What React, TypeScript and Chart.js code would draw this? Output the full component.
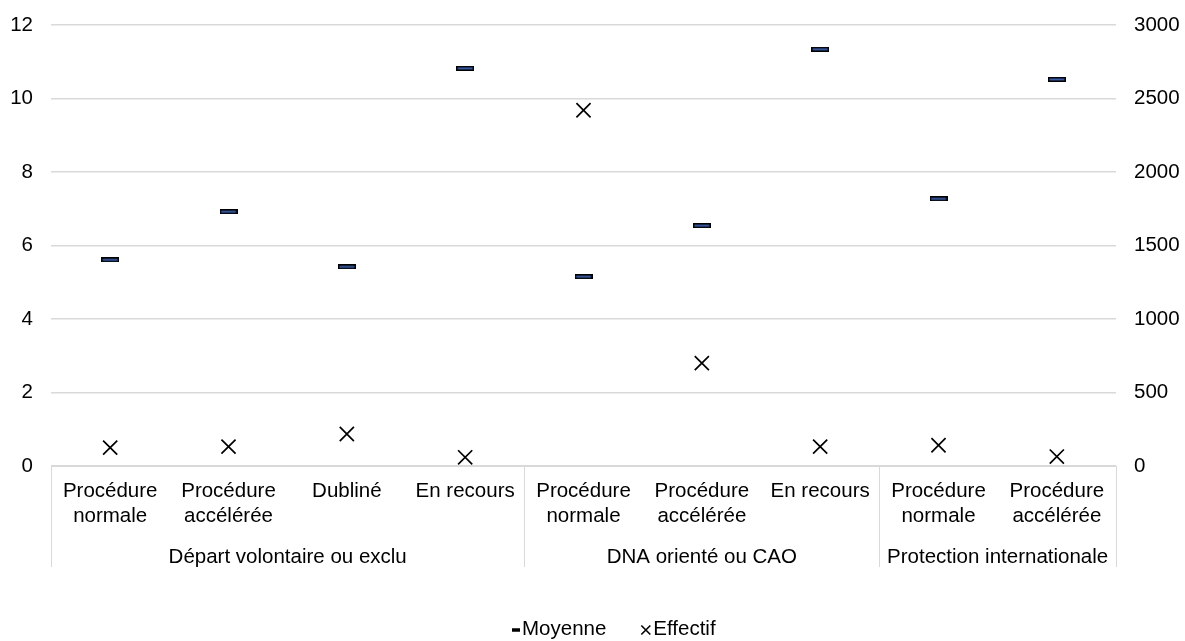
import { useEffect, useRef } from "react";
import { Chart, registerables } from "chart.js";

Chart.register(...registerables);

// Categories (two-line labels) and the groups they belong to
const categories: (string | string[])[] = [
  ["Procédure", "normale"],
  ["Procédure", "accélérée"],
  "Dubliné",
  "En recours",
  ["Procédure", "normale"],
  ["Procédure", "accélérée"],
  "En recours",
  ["Procédure", "normale"],
  ["Procédure", "accélérée"],
];
const groupLabels = ["Départ volontaire ou exclu", "DNA orienté ou CAO", "Protection internationale"];
const groupSizes = [4, 3, 2];

// Series values
const moyenne = [5.61, 6.92, 5.42, 10.82, 5.15, 6.54, 11.34, 7.27, 10.52];
const effectif = [125, 132, 218, 59, 2420, 700, 132, 141, 64];

// Axis ranges
const leftMax = 12;
const leftStep = 2;
const rightMax = 3000;
const rightStep = 500;

const FONT = "'Liberation Sans', Arial, sans-serif";
const FONT_SIZE = 20.5;
const GRID = "#d9d9d9";
const TEXT = "#000000";
const HIDDEN = "rgba(0,0,0,0)";

function makeDash(): HTMLCanvasElement {
  const c = document.createElement("canvas");
  c.width = 18;
  c.height = 5;
  const g = c.getContext("2d")!;
  g.fillStyle = "#000000";
  g.fillRect(0, 0, 18, 5);
  g.fillStyle = "#3b5da8";
  g.fillRect(1.5, 1.5, 15, 2);
  return c;
}

// Draws the group row under the category labels, its separators and the legend
const groupAxisPlugin = {
  id: "groupAxis",
  afterDraw(chart: any) {
    const { ctx, chartArea, scales } = chart;
    const x = scales.x;
    const top = chartArea.bottom;
    const bottom = top + 101;
    const bounds: number[] = [chartArea.left];
    let idx = 0;
    groupSizes.forEach((n, gi) => {
      idx += n;
      if (gi < groupSizes.length - 1) {
        bounds.push((x.getPixelForValue(idx - 1) + x.getPixelForValue(idx)) / 2);
      }
    });
    bounds.push(chartArea.right);

    ctx.save();
    ctx.strokeStyle = GRID;
    ctx.lineWidth = 1;
    bounds.forEach((bx) => {
      const px = Math.round(bx) + 0.5;
      ctx.beginPath();
      ctx.moveTo(px, top);
      ctx.lineTo(px, bottom);
      ctx.stroke();
    });

    ctx.fillStyle = TEXT;
    ctx.font = `${FONT_SIZE}px ${FONT}`;
    ctx.textAlign = "center";
    ctx.textBaseline = "middle";
    groupLabels.forEach((label, i) => {
      ctx.fillText(label, (bounds[i] + bounds[i + 1]) / 2, top + 91);
    });

    // Legend
    const ly = 630;
    const ds = chart.data.datasets;
    ctx.textAlign = "left";
    let lx = 512;
    ctx.fillStyle = "#000000";
    ctx.fillRect(lx, ly - 1.75, 8, 3.5);
    lx += 10;
    ctx.fillStyle = TEXT;
    ctx.fillText(ds[0].label, lx, ly - 1);
    lx += ctx.measureText(ds[0].label).width + 35;
    ctx.strokeStyle = "#000000";
    ctx.lineWidth = 1.6;
    ctx.beginPath();
    ctx.moveTo(lx, ly - 4.5);
    ctx.lineTo(lx + 9, ly + 4.5);
    ctx.moveTo(lx + 9, ly - 4.5);
    ctx.lineTo(lx, ly + 4.5);
    ctx.stroke();
    lx += 12;
    ctx.fillText(ds[1].label, lx, ly - 1);
    ctx.restore();
  },
};

export default function App() {
  const ref = useRef<HTMLCanvasElement | null>(null);

  useEffect(() => {
    if (!ref.current) return;
    const font = { family: FONT, size: FONT_SIZE, lineHeight: 1.22 };
    const chart = new Chart(ref.current, {
      type: "line",
      data: {
        labels: categories as any,
        datasets: [
          {
            label: "Moyenne",
            data: moyenne,
            yAxisID: "y",
            showLine: false,
            pointStyle: makeDash() as any,
            pointRadius: 9,
            pointHoverRadius: 9,
            borderColor: "#000000",
            backgroundColor: "#3b5da8",
          },
          {
            label: "Effectif",
            data: effectif,
            yAxisID: "y1",
            showLine: false,
            pointStyle: "crossRot",
            pointRadius: 10,
            pointHoverRadius: 10,
            pointBorderWidth: 1.7,
            borderColor: "#000000",
            backgroundColor: "#000000",
          },
        ],
      },
      options: {
        responsive: false,
        animation: false,
        layout: { padding: { top: 25, left: 0, right: 0, bottom: 0 } },
        plugins: {
          legend: { display: false },
          tooltip: { enabled: false },
        },
        scales: {
          x: {
            offset: true,
            grid: { display: false, drawTicks: false },
            border: { display: true, color: GRID, width: 1 },
            ticks: {
              autoSkip: false,
              maxRotation: 0,
              minRotation: 0,
              padding: 13,
              color: TEXT,
              font,
            },
            afterFit: (s: any) => {
              s.height = 175;
            },
          },
          y: {
            position: "left",
            min: 0,
            max: leftMax,
            ticks: {
              stepSize: leftStep,
              padding: 0,
              color: TEXT,
              font,
              callback: (v: any) => String(v),
            },
            grid: { color: GRID, lineWidth: 1.5, drawTicks: true, tickLength: 18, tickColor: HIDDEN },
            border: { display: false },
            afterFit: (s: any) => {
              s.width = 51;
            },
          },
          y1: {
            position: "right",
            min: 0,
            max: rightMax,
            ticks: {
              stepSize: rightStep,
              padding: 0,
              color: TEXT,
              font,
              callback: (v: any) => String(v),
            },
            grid: { display: false, drawTicks: true, tickLength: 18, tickColor: HIDDEN },
            border: { display: false },
            afterFit: (s: any) => {
              s.width = 69;
            },
          },
        },
      },
      plugins: [groupAxisPlugin],
    });
    return () => chart.destroy();
  }, []);

  return (
    <div style={{ position: "fixed", left: 0, top: 0, width: 1185, height: 641, background: "#fff" }}>
      <canvas ref={ref} width={1185} height={641} style={{ display: "block" }} />
    </div>
  );
}
